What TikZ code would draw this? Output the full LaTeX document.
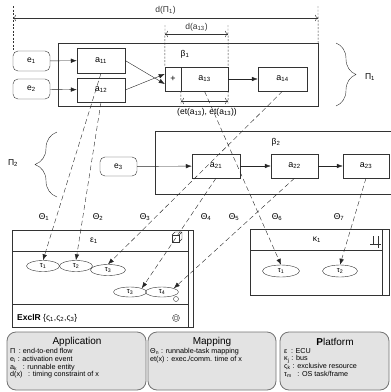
\documentclass[tikz,border=0pt]{standalone}
\usepackage{fontspec}
\setmainfont{Liberation Sans}
\usetikzlibrary{arrows.meta, positioning, shapes.geometric,
                decorations.pathreplacing}
\tikzset{
  flowbox/.style={rectangle, draw=black!80, inner sep=0pt},
  evt/.style={rectangle, rounded corners=5pt, draw=black!80,
              minimum width=37pt, minimum height=20pt, inner sep=0pt,
              font=\fontsize{8.5}{9}\selectfont},
  rnbl/.style={rectangle, draw=black!80, minimum width=48pt,
               minimum height=24pt, inner sep=0pt,
               font=\fontsize{9}{10}\selectfont},
  task/.style={ellipse, draw=black!80, minimum width=33pt,
               minimum height=11pt, inner sep=0pt,
               font=\fontsize{7.5}{8}\selectfont},
  arr/.style={-{Latex[length=6pt,width=4.5pt]}, black!85},
  maparr/.style={-{Latex[length=6pt,width=4.5pt]}, black!85,
                 dash pattern=on 5pt off 3pt},
  dimarr/.style={{To[length=3pt]}-{To[length=3pt]}, black!80},
  dimln/.style={black!80, dash pattern=on 2pt off 1.5pt},
  lbl/.style={font=\fontsize{8.5}{9}\selectfont, inner sep=0pt},
  legbox/.style={rectangle, rounded corners=9pt, draw=black!55,
                 fill=black!11, thick, inner sep=0pt},
  legttl/.style={font=\fontsize{10}{11}\selectfont, inner sep=0pt},
  legtxt/.style={font=\fontsize{7.2}{7.6}\selectfont, align=left,
                 anchor=north west, inner sep=0pt},
}

\begin{document}
\begin{tikzpicture}[x=1pt,y=-1pt]
  \useasboundingbox (0,0) rectangle (391,392);

  % end-to-end flow 1
  \node[flowbox, minimum width=260pt, minimum height=63pt] (pi1) at (188,74.5) {};
  \node[evt]  (e1)  at (31.5,61)  {e\textsubscript{1}};
  \node[evt]  (e2)  at (31.5,89)  {e\textsubscript{2}};
  \node[rnbl, minimum height=25pt] (a11) at (101,60.5) {a\textsubscript{11}};
  \node[rnbl] (a12) at (101,90)   {a\textsubscript{12}};
  \node[rnbl, minimum width=16pt] (plus) at (173,79) {+};
  \node[rnbl, minimum width=47pt] (a13) at (204.5,79) {a\textsubscript{13}};
  \node[rnbl, minimum width=49pt] (a14) at (282.5,79) {a\textsubscript{14}};
  \node[lbl] (b1) at (185,54) {β\textsubscript{1}};

  \draw[arr] (e1) -- (a11);
  \draw[arr] (e2) -- (a12);
  \draw[arr] (a11.east) -- ([yshift=-5pt]plus.west);
  \draw[arr] (a12.east) -- ([yshift=5pt]plus.west);
  \draw[arr] (a13) -- (a14);

  % timing constraints
  \coordinate (dl) at (13,18);
  \coordinate (dr) at (318,18);
  \draw[dimln] (13,6) -- (e1.north -| dl);
  \draw[dimln] (318,6) -- (pi1.north east);
  \draw[dimarr] (dl) -- node[lbl, above=4pt] (dpi) {d(Π\textsubscript{1})} (dr);
  \draw[dimln] (165,25) -- (plus.north west);
  \draw[dimln] (228,25) -- (a13.north east);
  \draw[dimarr] (165,34) -- node[lbl, above=3pt] (da) {d(a\textsubscript{13})} (228,34);
  \draw[dimln] (a13.south west) -- (181,104);
  \draw[dimln] (a13.south east) -- (228,104);
  \draw[dimarr] (181,101) -- (228,101);
  \node[lbl] (eta) at (207,112) {(et(a\textsubscript{13}), et(a\textsubscript{13}))};

  \draw[decorate, decoration={brace, amplitude=20pt}, black!80]
    (336,43) -- (336,106);
  \node[lbl] (p1) at (370,77) {Π\textsubscript{1}};

  % end-to-end flow 2
  \draw[black!80] (398,131) -- (155,131) -- (155,194) -- (398,194);
  \node[evt, minimum height=19pt] (e3) at (118.5,166.5) {e\textsubscript{3}};
  \node[rnbl] (a21) at (216,166)   {a\textsubscript{21}};
  \node[rnbl, minimum width=47pt] (a22) at (294.5,166) {a\textsubscript{22}};
  \node[rnbl, minimum width=46pt] (a23) at (366,166)   {a\textsubscript{23}};
  \node[lbl] (b2) at (276,142) {β\textsubscript{2}};
  \draw[arr] (e3) -- (a21);
  \draw[arr] (a21) -- (a22);
  \draw[arr] (a22) -- (a23);

  \draw[decorate, decoration={brace, amplitude=22pt}, black!80]
    (57,197) -- (57,132);
  \node[lbl] (p2) at (13,163) {Π\textsubscript{2}};

  % ECU 1
  \draw[black!80] (12,230) rectangle (193,327);
  \draw[black!80] (188,230) -- (188,327);
  \draw[black!80] (12,251) -- (188,251);
  \draw[black!80] (12,304) -- (188,304);
  \node[lbl] (ecu1) at (94,241) {ε\textsubscript{1}};
  \draw[black!80] (172,235) rectangle (179,242);
  \draw[black!80] (172,235) -- (175,232) -- (182,232) -- (182,239) -- (179,242)
                  (179,235) -- (182,232);
  \node[task] (t11) at (43,266)  {τ\textsubscript{1}};
  \node[task] (t12) at (76,266)  {τ\textsubscript{2}};
  \node[task, minimum width=35pt] (t13) at (108,270) {τ\textsubscript{3}};
  \node[task, minimum height=10pt] (t23) at (130,292) {τ\textsubscript{3}};
  \node[task, minimum height=10pt] (t24) at (162,292) {τ\textsubscript{4}};
  \draw[black!80] (176,299) circle (2.5);
  \node[lbl, anchor=west] (excl) at (17,318)
    {\textbf{ExclR} \{ς\textsubscript{1},ς\textsubscript{2},ς\textsubscript{3}\}};
  \draw[black!80] (176,318) circle (3.5);
  \draw[black!80, rounded corners=1pt] (174,316.5) rectangle (178,319.5);

  % bus 1
  \draw[black!80] (250,229) rectangle (389,295);
  \draw[black!80] (382,229) -- (382,295);
  \draw[black!80] (250,250) -- (382,250);
  \node[lbl] (bus1) at (317,240) {κ\textsubscript{1}};
  \draw[black!80] (370,244) -- (381,244) (373,236) -- (373,244)
                  (378,236) -- (378,248);
  \node[task, minimum width=37pt, minimum height=12pt] (k11) at (281,271) {τ\textsubscript{1}};
  \node[task, minimum width=35pt, minimum height=12pt] (k12) at (340,271) {τ\textsubscript{2}};

  % mappings
  \draw[maparr] (a11.south) -- (t11.north);
  \draw[maparr] (a12.south) -- (t12.north);
  \draw[maparr] (a14.south) -- (t13.north);
  \draw[maparr] (a13.south) -- (k11.north);
  \draw[maparr] (a21.south) -- (t23.north east);
  \draw[maparr] (a22.south) -- (t24.north east);
  \draw[maparr] (a23.south) -- (k12.north);
  \node[lbl] (th1) at (44,217)  {Θ\textsubscript{1}};
  \node[lbl] (th2) at (98,217)  {Θ\textsubscript{2}};
  \node[lbl] (th3) at (145,217) {Θ\textsubscript{3}};
  \node[lbl] (th4) at (206,217) {Θ\textsubscript{4}};
  \node[lbl] (th5) at (234,217) {Θ\textsubscript{5}};
  \node[lbl] (th6) at (277,217) {Θ\textsubscript{6}};
  \node[lbl] (th7) at (339,217) {Θ\textsubscript{7}};

  % legend
  \node[legbox, minimum width=139pt, minimum height=58pt] (app)  at (76.5,361) {};
  \node[legbox, minimum width=128pt, minimum height=58pt] (mapg) at (212,361) {};
  \node[legbox, minimum width=109pt, minimum height=58pt] (plat) at (334.5,361) {};
  \node[legttl] (appttl)  at (77,342)  {Application};
  \node[legttl] (mapttl)  at (212,342) {Mapping};
  \node[legttl] (platttl) at (335,342) {\textbf{P}latform};
  \node[legtxt] (apptxt) at (10,348.5)
    {Π\enspace: end-to-end flow\\
     e\textsubscript{i} : activation event\\
     a\textsubscript{k} \enspace: runnable entity\\
     d(x) \enspace: timing constraint of x};
  \node[legtxt] (maptxt) at (150,348.5)
    {Θ\textsubscript{n} : runnable-task mapping\\
     et(x) : exec./comm. time of x};
  \node[legtxt] (plattxt) at (284,348)
    {ε\enspace: ECU\\
     κ\textsubscript{j} : bus\\
     ς\textsubscript{k} : exclusive resource\\
     τ\textsubscript{m} \enspace: OS task/frame};
\end{tikzpicture}
\end{document}
